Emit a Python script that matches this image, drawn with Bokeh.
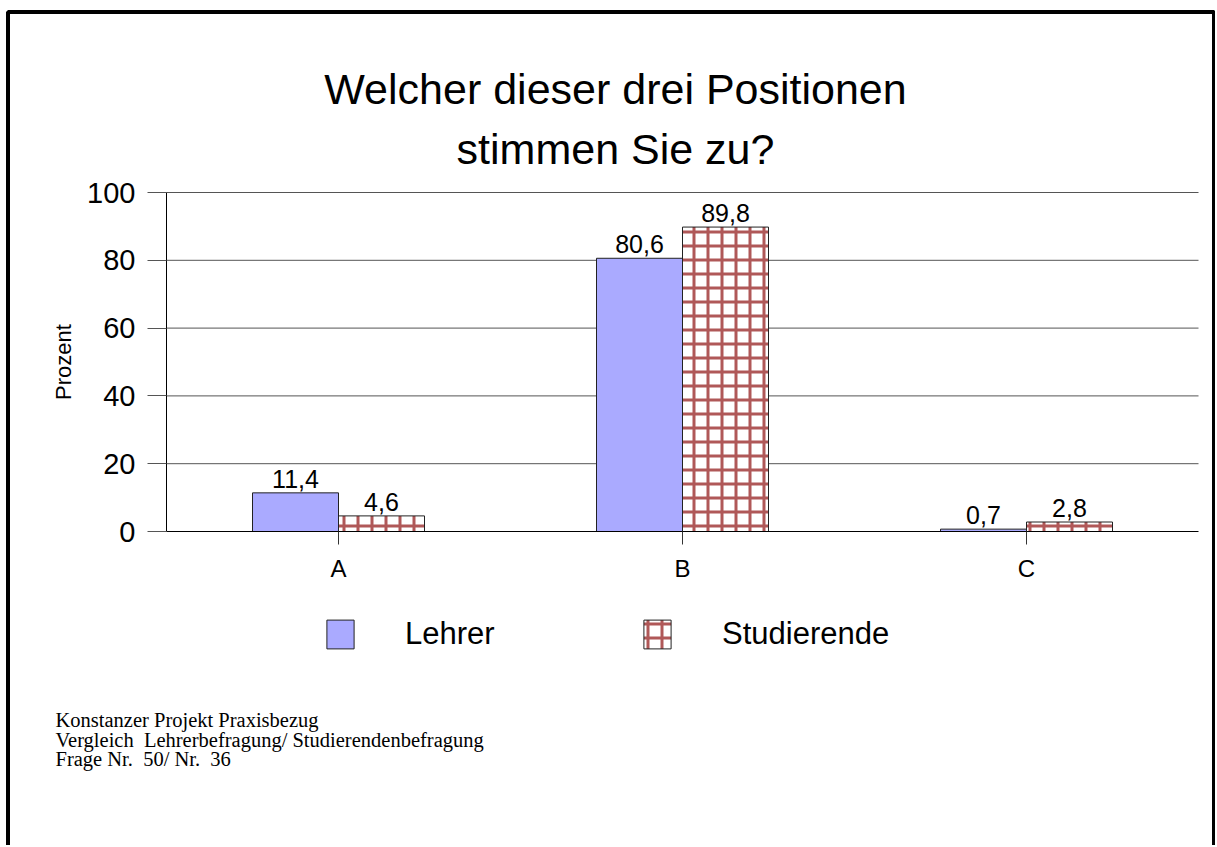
from bokeh.plotting import figure
from bokeh.models import Legend, LegendItem, Label, BoxAnnotation, FixedTicker, ColumnDataSource
from bokeh.core.properties import value
from bokeh.embed import file_html
from bokeh.resources import INLINE

# ---- data ----
categories = ["A", "B", "C"]
lehrer = [11.4, 80.6, 0.7]
studierende = [4.6, 89.8, 2.8]
series_names = ["Lehrer", "Studierende"]
y_ticks = [0, 20, 40, 60, 80, 100]
title_lines = ["Welcher dieser drei Positionen", "stimmen Sie zu?"]
y_label = "Prozent"
footnote_lines = [
    "Konstanzer Projekt Praxisbezug",
    "Vergleich\u00a0 Lehrerbefragung/ Studierendenbefragung",
    "Frage Nr.\u00a0 50/ Nr.\u00a0 36",
]

SANS = "Liberation Sans"
SERIF = "Liberation Serif"
LEHRER_COLOR = "#aaaaff"
HATCH_COLOR = "#b05858"

W, H = 1215, 845
# plot area (pixels) used to derive the visible data ranges
PX_L, PX_R, PX_T, PX_B = 166, 1198, 192, 531
x_lo, x_hi = 0, len(categories)
y_lo, y_hi = y_ticks[0], y_ticks[-1]
sx = (PX_R - PX_L) / (x_hi - x_lo)
sy = (PX_B - PX_T) / (y_hi - y_lo)
x_start = x_lo - PX_L / sx
x_end = x_lo + (W - PX_L) / sx
y_end = y_lo + PX_B / sy
y_start = y_lo - (H - PX_B) / sy

def dx(px):
    return x_lo + (px - PX_L) / sx

def dy(py):
    return y_lo + (PX_B - py) / sy

centers = [i + 0.5 for i in range(len(categories))]
bar_w = 0.25

def fmt(v):
    return f"{v:.1f}".replace(".", ",")

src_l = ColumnDataSource(dict(x=[c - bar_w / 2 for c in centers], top=lehrer,
                              lab=[fmt(v) for v in lehrer]))
src_s = ColumnDataSource(dict(x=[c + bar_w / 2 for c in centers], top=studierende,
                              lab=[fmt(v) for v in studierende]))

p = figure(width=W, height=H, x_range=(x_start, x_end), y_range=(y_start, y_end),
           output_backend="svg", toolbar_location=None, min_border=0)
p.outline_line_color = None
p.background_fill_color = "white"
p.border_fill_color = "white"
p.xgrid.visible = False
p.ygrid.visible = False

# grid lines (from the y ticks)
grid_y = y_ticks[1:]
p.segment(x0=[x_lo] * len(grid_y), x1=[x_hi] * len(grid_y), y0=grid_y, y1=grid_y,
          line_color="#555555", line_width=1)

r_l = p.vbar(x="x", top="top", width=bar_w, bottom=0, source=src_l,
             fill_color=LEHRER_COLOR, line_color="#222222", line_width=1)
r_s = p.vbar(x="x", top="top", width=bar_w, bottom=0, source=src_s,
             fill_color="white", line_color="#222222", line_width=1,
             hatch_pattern="+", hatch_color=HATCH_COLOR, hatch_weight=3, hatch_scale=14)

for src in (src_l, src_s):
    p.text(x="x", y="top", text="lab", source=src, text_align="center", text_baseline="bottom",
           y_offset=-5, text_font=value(SANS), text_font_size="25px", text_color="black")

# axes (fixed at the data origin)
xa = p.xaxis[0]
xa.fixed_location = 0
xa.bounds = (x_lo, x_hi)
xa.ticker = FixedTicker(ticks=centers)
xa.major_label_overrides = {c: cat for c, cat in zip(centers, categories)}
xa.minor_tick_line_color = None
xa.major_tick_in = 0
xa.major_tick_out = 13
xa.major_tick_line_color = "#333333"
xa.axis_line_color = "black"
xa.major_label_standoff = 10
xa.major_label_text_font = SANS
xa.major_label_text_font_size = "24px"
xa.major_label_text_color = "black"

ya = p.yaxis[0]
ya.fixed_location = 0
ya.bounds = (y_lo, y_hi)
ya.ticker = FixedTicker(ticks=y_ticks)
ya.minor_tick_line_color = None
ya.major_tick_in = 0
ya.major_tick_out = 19
ya.major_tick_line_color = "#555555"
ya.axis_line_color = "black"
ya.major_label_standoff = 12
ya.major_label_text_font = SANS
ya.major_label_text_font_size = "29px"
ya.major_label_text_color = "black"
ya.axis_label = y_label
ya.axis_label_text_font = SANS
ya.axis_label_text_font_style = "normal"
ya.axis_label_text_font_size = "22px"
ya.axis_label_text_color = "black"
ya.axis_label_standoff = 8

# title
for txt, py in zip(title_lines, [88, 148]):
    p.add_layout(Label(x=dx(615), y=dy(py), text=txt, text_align="center", text_baseline="alphabetic",
                       text_font=SANS, text_font_size="43px", text_color="black"))

# footnote
for txt, py in zip(footnote_lines, [719.5, 739.5, 758.5]):
    p.add_layout(Label(x=dx(55), y=dy(py), text=txt, text_align="left", text_baseline="alphabetic",
                       text_font=SERIF, text_font_size="20.5px", text_color="black"))

# legend
legend = Legend(items=[LegendItem(label=series_names[0], renderers=[r_l]),
                       LegendItem(label=series_names[1], renderers=[r_s])],
                orientation="horizontal", location=(323, H - 652),
                glyph_width=34, glyph_height=36, label_standoff=48, label_width=235,
                label_height=36, spacing=0, padding=0, margin=0,
                label_text_font=SANS, label_text_font_size="31px", label_text_color="black",
                border_line_alpha=0, background_fill_alpha=0)
p.add_layout(legend, "center")

# page frame
p.add_layout(BoxAnnotation(left=dx(7.5), right=dx(1213.5), top=dy(11.5), bottom=dy(H + 40),
                           fill_alpha=0, line_color="black", line_alpha=1.0, line_width=4,
                           level="overlay"))

open("out.html", "w").write(file_html(p, INLINE))
